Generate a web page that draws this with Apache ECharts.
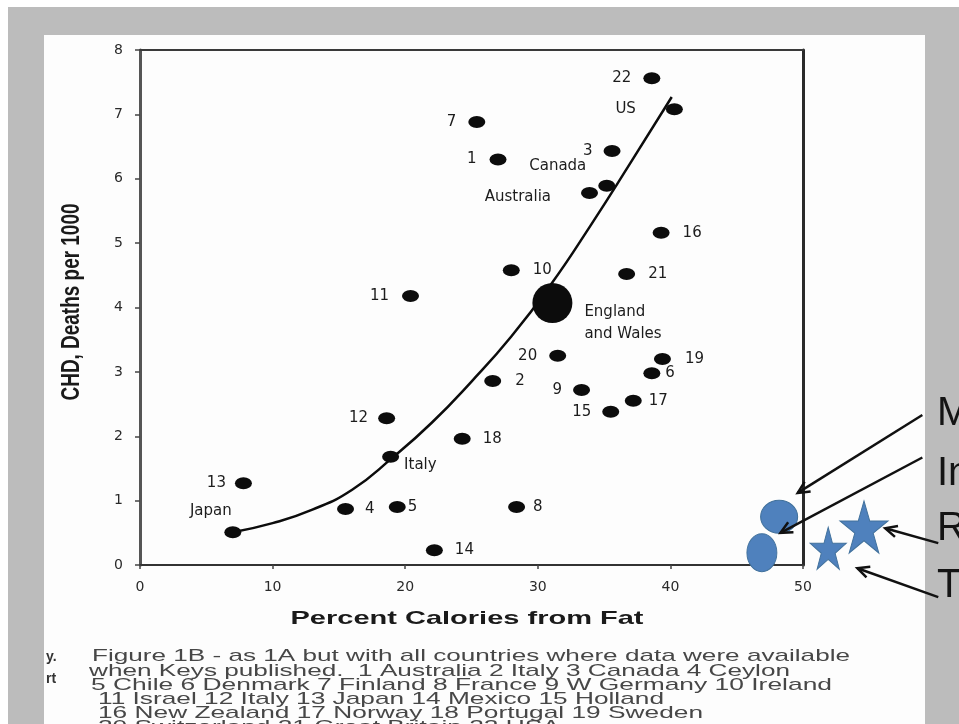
<!DOCTYPE html>
<html><head><meta charset="utf-8">
<script src="https://cdn.jsdelivr.net/npm/echarts@6/dist/echarts.min.js"></script>
<style>html,body{margin:0;padding:0;background:#fff;overflow:hidden}#c{width:959px;height:724px}</style>
</head><body><div id="c"></div>
<script>
// ---- data ----
const countryNames = ['22','US','7','1','3','Canada','Australia','16','10','21','England and Wales','11','20','19','6','2','9','17','15','18','12','Italy','13','4','5','8','Japan','14'];
const fatPct   = [38.6,40.3,25.4,27.0,35.6,35.2,33.9,39.3,28.0,36.7,31.1,20.4,31.5,39.4,38.6,26.6,33.3,37.2,35.5,24.3,18.6,18.9,7.8,15.5,19.4,28.4,7.0,22.2];
const chdDeaths= [7.56,7.08,6.88,6.30,6.43,5.89,5.78,5.16,4.58,4.52,4.07,4.18,3.25,3.20,2.98,2.86,2.72,2.55,2.38,1.96,2.28,1.68,1.27,0.87,0.90,0.90,0.51,0.23];
const curveFat = [7.0,10.0,13.0,16.0,19.0,22.0,25.0,28.0,31.0,34.0,37.0,40.1];
const curveChd = [0.51,0.65,0.86,1.17,1.66,2.21,2.85,3.55,4.36,5.28,6.25,7.27];
const blueCircleFat = [48.2,46.9];
const blueCircleChd = [0.75,0.19];
const blueStarFat = [51.9,54.6];
const blueStarChd = [0.26,0.59];
const xTickValues = [0,10,20,30,40,50];
const yTickValues = [0,1,2,3,4,5,6,7,8];
const xTitle = 'Percent Calories from Fat';
const yTitle = 'CHD, Deaths per 1000';
const captionLines = [
  'Figure 1B - as 1A but with all countries where data were available',
  'when Keys published.  1 Australia 2 Italy 3 Canada 4 Ceylon',
  '5 Chile 6 Denmark 7 Finland 8 France 9 W Germany 10 Ireland',
  '11 Israel 12 Italy 13 Japan 14 Mexico 15 Holland',
  '16 New Zealand 17 Norway 18 Portugal 19 Sweden',
  '20 Switzerland 21 Great Britain 22 USA'
];
const sideWords = ['M','In','R','T'];
const arrowFrom = [[59.0,2.33],[59.0,1.67],[60.2,0.34],[60.2,-0.50]];
const arrowTo   = [[49.6,1.12],[48.3,0.50],[56.2,0.57],[54.1,-0.05]];

// ---- styling / placement (not data) ----
const labelPlacement = {
  '22':{pos:'left'}, 'US':{pos:'left',d:30}, '7':{pos:'left'}, '1':{pos:'left',d:13}, '3':{pos:'left',d:11},
  'Canada':{pos:'top',d:3,off:[-49,0]}, 'Australia':{pos:'left',d:30,off:[0,4]},
  '16':{pos:'right',d:13}, '10':{pos:'right',d:13}, '21':{pos:'right',d:13},
  'England and Wales':{pos:'right',d:12,off:[0,20],text:'England\nand Wales'},
  '11':{pos:'left',d:13}, '20':{pos:'left'}, '19':{pos:'right',d:14}, '6':{pos:'right',d:5},
  '2':{pos:'right',d:14}, '9':{pos:'left',d:11}, '17':{pos:'right',d:7}, '15':{pos:'left',d:11},
  '18':{pos:'right'}, '12':{pos:'left',d:10}, 'Italy':{pos:'right',d:5,off:[0,8]},
  '13':{pos:'left',d:9}, '4':{pos:'right',d:11}, '5':{pos:'right',d:2}, '8':{pos:'right',d:8},
  'Japan':{pos:'top',d:4,off:[-22,0]}, '14':{pos:'right'}
};
const FF = '"Liberation Sans", Arial, sans-serif';
const LF = '"DejaVu Sans", sans-serif';
const ink = '#0c0c0c';

const dotData = countryNames.map((n,i)=>{
  const p = labelPlacement[n] || {};
  return {
    name:n, value:[fatPct[i], chdDeaths[i]],
    symbolSize: n==='England and Wales' ? 40 : [17,12],
    label:{show:true, position:p.pos||'right', distance:(p.d!==undefined?p.d:12), offset:p.off||[0,0],
      formatter:p.text||n, lineHeight:22}
  };
});
const curveData = curveFat.map((x,i)=>[x,curveChd[i]]);
const starPath = 'path://M50,2 L61.8,38.2 L99.5,38.2 L69,60.5 L80.6,96.6 L50,74.3 L19.4,96.6 L31,60.5 L0.5,38.2 L38.2,38.2 Z';
const circleSizes = [[37,33],[30,38]];
const starSizes = [[36,42],[48,52]];

const chart = echarts.init(document.getElementById('c'), null, {renderer:'canvas'});
const baseAxis = {type:'value', splitLine:{show:false}};
chart.setOption({
  animation:false,
  backgroundColor:'#ffffff',
  grid:{left:140, right:156, top:50, bottom:159, containLabel:false},
  xAxis:[
    Object.assign({}, baseAxis, {min:0,max:50,interval:10, position:'bottom',
      axisLine:{show:true, onZero:false, lineStyle:{color:'#333',width:2}},
      axisTick:{show:true, length:4, lineStyle:{color:'#444',width:1.5}},
      axisLabel:{margin:15, color:'#2a2a2a', fontFamily:LF, fontSize:14,
        customValues: xTickValues, formatter: v=>String(v)}}),
    Object.assign({}, baseAxis, {min:0,max:50, position:'top',
      axisLine:{show:true, onZero:false, lineStyle:{color:'#3a3a3a',width:2}},
      axisTick:{show:false}, axisLabel:{show:false}})
  ],
  yAxis:[
    Object.assign({}, baseAxis, {min:0,max:8,interval:1, position:'left',
      axisLine:{show:true, onZero:false, lineStyle:{color:'#555',width:3}},
      axisTick:{show:true, length:5, lineStyle:{color:'#444',width:1.5}},
      axisLabel:{margin:17, color:'#2a2a2a', fontFamily:LF, fontSize:14,
        customValues: yTickValues, formatter: v=>String(v)}}),
    Object.assign({}, baseAxis, {min:0,max:8, position:'right',
      axisLine:{show:true, onZero:false, lineStyle:{color:'#2a2a2a',width:3}},
      axisTick:{show:false}, axisLabel:{show:false}})
  ],
  series:[
    {type:'line', data:curveData, smooth:0.5, showSymbol:false, symbol:'none',
      lineStyle:{color:ink,width:2.5}, z:3, silent:true},
    {type:'scatter', data:dotData, symbol:'circle', itemStyle:{color:ink, opacity:1}, z:4,
      label:{color:'#1c1c1c', fontFamily:LF, fontSize:15}},
    {type:'scatter', clip:false, symbol:'circle', z:5,
      data:blueCircleFat.map((x,i)=>({value:[x,blueCircleChd[i]], symbolSize:circleSizes[i]})),
      itemStyle:{color:'#4f81bd', opacity:1, borderColor:'#41719c', borderWidth:1}},
    {type:'scatter', clip:false, symbol:starPath, z:5,
      data:blueStarFat.map((x,i)=>({value:[x,blueStarChd[i]], symbolSize:starSizes[i]})),
      itemStyle:{color:'#4f81bd', opacity:1, borderColor:'#41719c', borderWidth:1}}
  ]
});

// ---- annotations & page texts ----
const cv = document.createElement('canvas').getContext('2d');
function measure(t, font){ cv.font = font; return cv.measureText(t).width; }
function txt(t, x, y, font, fill, opts){
  opts = opts || {};
  const al = opts.align || 'left';
  return {type:'text', x:x, y:y, z:20, rotation:opts.rotation||0,
    scaleX:opts.scaleX||1, scaleY:opts.scaleY||1,
    style:{text:t, font:font, fill:fill, align:al, textAlign:al, verticalAlign:'middle', textVerticalAlign:'middle'}};
}
const g = [];
g.push({type:'rect', z:-10, shape:{x:8,y:7,width:951,height:717}, style:{fill:'#bcbcbc'}});
g.push({type:'rect', z:-9, shape:{x:44,y:35,width:881,height:689}, style:{fill:'#fdfdfd'}});

const xtFont = 'bold 19px ' + FF;
g.push(txt(xTitle, 467, 619, xtFont, '#1a1a1a', {align:'center', scaleX:353/measure(xTitle,xtFont)}));
const ytFont = 'bold 19px ' + FF;
g.push(txt(yTitle, 72, 302, ytFont, '#1a1a1a', {align:'center', rotation:Math.PI/2, scaleX:197/measure(yTitle,ytFont), scaleY:1.4}));

const capFont = '17px ' + FF;
const capLeft = [92,89,91,98,98,98];
const capRight = [850,790,832,664,703,null];
const capY = [656,671,685,699,713,727];
let lastScale = 1.35;
captionLines.forEach((t,i)=>{
  const w = measure(t,capFont);
  const s = capRight[i] ? (capRight[i]-capLeft[i])/w : lastScale;
  lastScale = s;
  g.push(txt(t, capLeft[i], capY[i], capFont, '#474747', {scaleX:s}));
});
g.push(txt('y.', 46, 657, 'bold 14px ' + FF, '#333'));
g.push(txt('rt', 46, 679, 'bold 14px ' + FF, '#333'));

const sideY = [414,474,529,586];
sideWords.forEach((w,i)=>g.push(txt(w, 937, sideY[i], '40px ' + FF, '#141414')));

arrowFrom.forEach((a,i)=>{
  const p0 = chart.convertToPixel({gridIndex:0}, a);
  const p1 = chart.convertToPixel({gridIndex:0}, arrowTo[i]);
  g.push({type:'line', z:15, shape:{x1:p0[0],y1:p0[1],x2:p1[0],y2:p1[1]}, style:{stroke:'#111',lineWidth:2.5}});
  const ang = Math.atan2(p0[1]-p1[1], p0[0]-p1[0]);
  const L = 13, spread = 0.45;
  const h1 = [p1[0]+L*Math.cos(ang+spread), p1[1]+L*Math.sin(ang+spread)];
  const h2 = [p1[0]+L*Math.cos(ang-spread), p1[1]+L*Math.sin(ang-spread)];
  g.push({type:'polyline', z:15, shape:{points:[h1,p1,h2]}, style:{stroke:'#111',lineWidth:2.5,fill:null}});
});
chart.setOption({graphic:{elements:g}});
</script>
</body></html>
